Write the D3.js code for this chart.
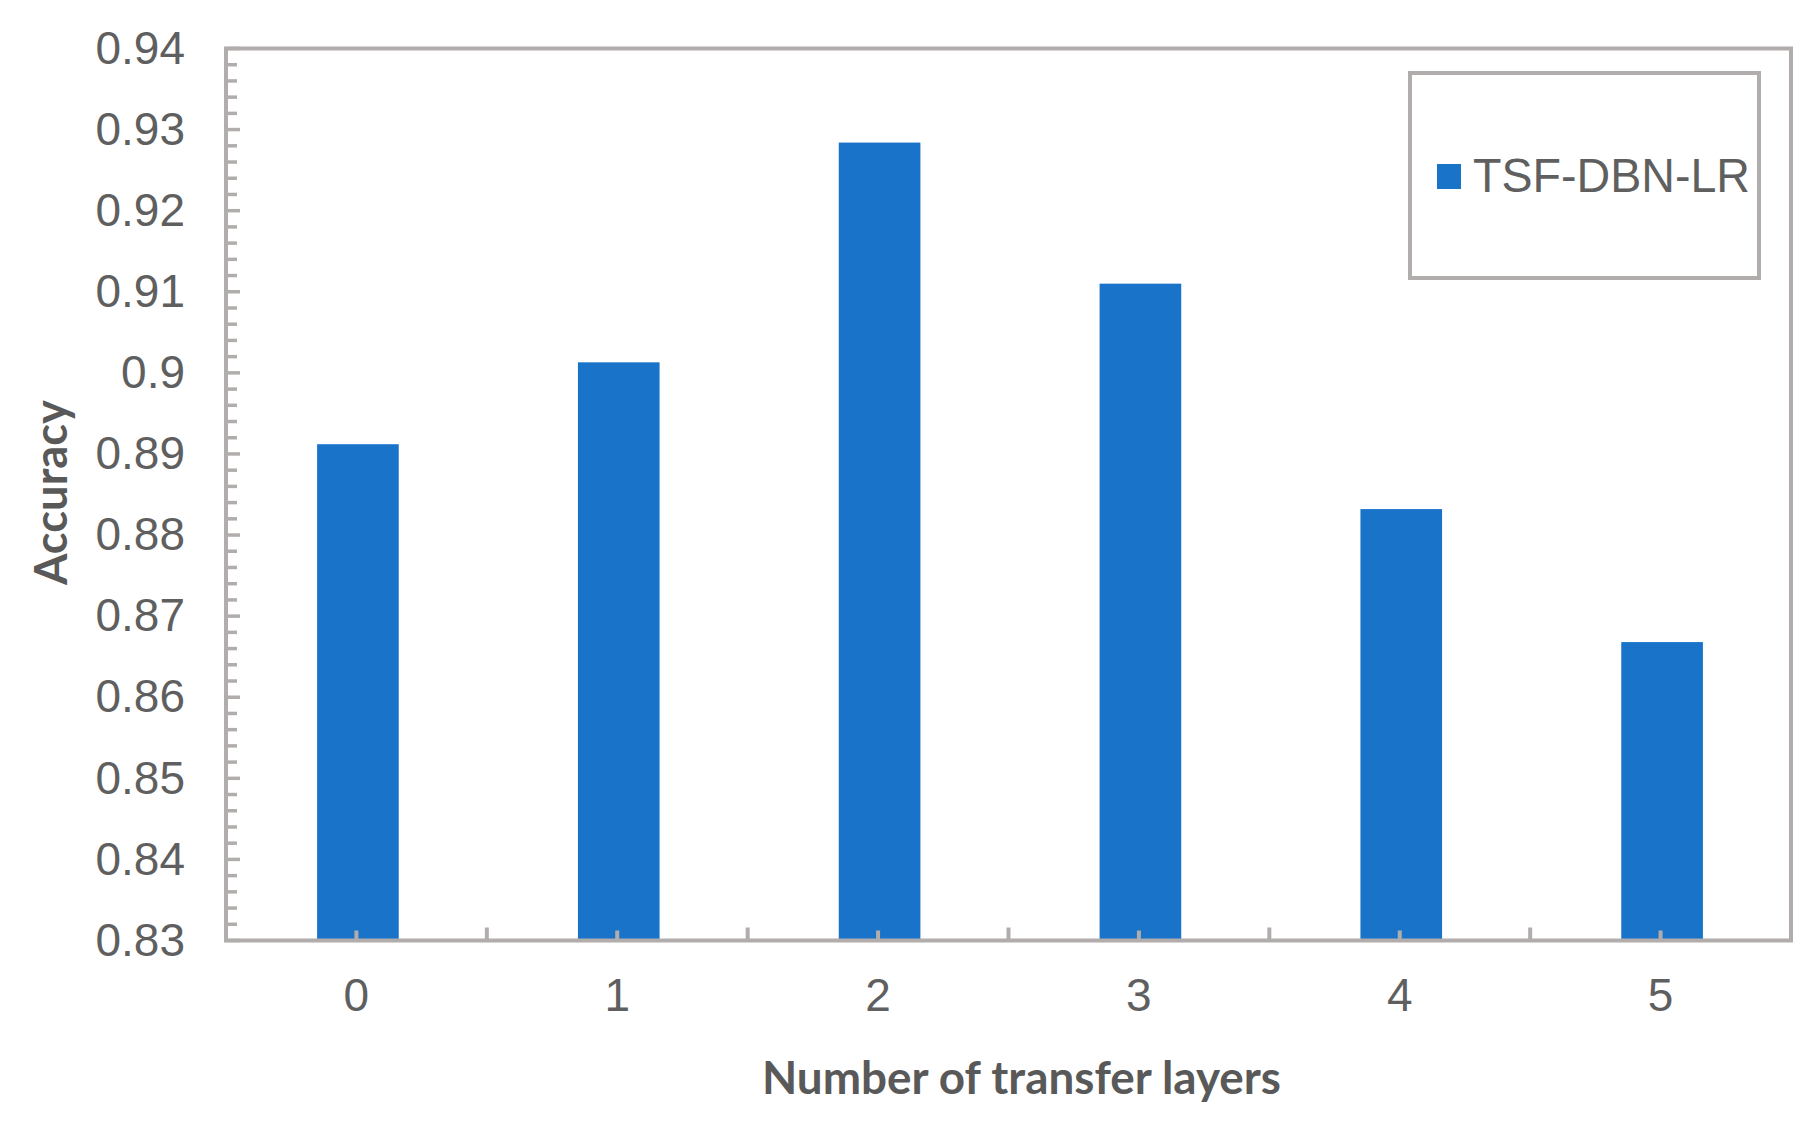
<!DOCTYPE html>
<html>
<head>
<meta charset="utf-8">
<script src="https://cdn.jsdelivr.net/npm/d3@7"></script>
<style>
  html, body { margin: 0; padding: 0; background: #ffffff; }
  svg { display: block; }
</style>
</head>
<body>
<script>
const categories = ["0", "1", "2", "3", "4", "5"];
const accuracy = [0.8912, 0.9013, 0.9284, 0.9110, 0.8832, 0.8668];
const yTicks = [0.83, 0.84, 0.85, 0.86, 0.87, 0.88, 0.89, 0.90, 0.91, 0.92, 0.93, 0.94];
const yTickLabels = ["0.83", "0.84", "0.85", "0.86", "0.87", "0.88", "0.89", "0.9", "0.91", "0.92", "0.93", "0.94"];
const seriesName = "TSF-DBN-LR";
const xTitle = "Number of transfer layers";
const yTitle = "Accuracy";

(function () {
const W = 1818, H = 1124;
const pL = 226, pR = 1791, pT = 48.5, pB = 940.5;
const axisColor = "#b1adac";
const textColor = "#595959";
const barColor = "#1873c9";

const svg = d3.select("body").append("svg")
  .attr("width", W).attr("height", H)
  .attr("viewBox", `0 0 ${W} ${H}`);
svg.append("rect").attr("width", W).attr("height", H).attr("fill", "#fff");

const x = d3.scaleBand().domain(categories).range([pL, pR]).padding(0);
const xBar = d3.scaleBand().domain(categories).range([pL, pR])
  .paddingInner(0.687).paddingOuter(0.3435);
const y = d3.scaleLinear().domain([0.83, 0.94]).range([pB, pT]);

// bars
svg.append("g").selectAll("rect").data(accuracy).join("rect")
  .attr("x", (d, i) => xBar(categories[i]) + 1.5)
  .attr("width", xBar.bandwidth())
  .attr("y", d => y(d))
  .attr("height", d => y(0.83) - y(d))
  .attr("fill", barColor);

// minor/major y ticks (inward)
const minor = d3.range(0, 56).map(i => 0.83 + i * 0.002);
svg.append("g").selectAll("line").data(minor).join("line")
  .attr("x1", pL).attr("x2", (d, i) => pL + (i % 5 === 0 ? 14 : 11))
  .attr("y1", d => y(d)).attr("y2", d => y(d))
  .attr("stroke", axisColor).attr("stroke-width", 3.5);

// x ticks at band boundaries and centres (inward)
const bounds = categories.map(c => x(c)).concat([pR]);
svg.append("g").selectAll("line").data(bounds).join("line")
  .attr("x1", d => d).attr("x2", d => d)
  .attr("y1", pB).attr("y2", pB - 13)
  .attr("stroke", axisColor).attr("stroke-width", 4);
svg.append("g").selectAll("line").data(categories).join("line")
  .attr("x1", d => x(d) + x.bandwidth() / 2).attr("x2", d => x(d) + x.bandwidth() / 2)
  .attr("y1", pB).attr("y2", pB - 10)
  .attr("stroke", axisColor).attr("stroke-width", 4);

// frame
svg.append("rect")
  .attr("x", pL).attr("y", pT)
  .attr("width", pR - pL).attr("height", pB - pT)
  .attr("fill", "none").attr("stroke", axisColor).attr("stroke-width", 4);

// y tick labels
const yAxis = d3.axisLeft(y).tickValues(yTicks)
  .tickFormat((d, i) => yTickLabels[i]).tickSize(0).tickPadding(41);
const gy = svg.append("g").attr("transform", `translate(${pL},0)`).call(yAxis);
gy.select(".domain").remove();
gy.selectAll("text")
  .attr("font-family", "'Liberation Sans', Arial, sans-serif")
  .attr("font-size", 46).attr("fill", "#5f5f5f");

// x tick labels
const xAxis = d3.axisBottom(x).tickSize(0).tickPadding(0);
const gx = svg.append("g").attr("transform", `translate(0,${pB})`).call(xAxis);
gx.select(".domain").remove();
gx.selectAll("text")
  .attr("dy", null).attr("y", 70.5)
  .attr("font-family", "'Liberation Sans', Arial, sans-serif")
  .attr("font-size", 46).attr("fill", "#5f5f5f");

// axis titles
svg.append("text")
  .attr("x", 1021.5).attr("y", 1094)
  .attr("text-anchor", "middle")
  .attr("font-family", "Lato, 'Noto Sans', sans-serif")
  .attr("font-weight", "bold").attr("font-size", 46)
  .attr("textLength", 519).attr("lengthAdjust", "spacingAndGlyphs")
  .attr("fill", textColor).text(xTitle);

svg.append("text")
  .attr("transform", "translate(67,492.5) rotate(-90)")
  .attr("text-anchor", "middle")
  .attr("font-family", "Lato, 'Noto Sans', sans-serif")
  .attr("font-weight", "bold").attr("font-size", 46)
  .attr("textLength", 185).attr("lengthAdjust", "spacingAndGlyphs")
  .attr("fill", textColor).text(yTitle);

// legend
const lg = svg.append("g");
lg.append("rect").attr("x", 1410).attr("y", 73).attr("width", 349).attr("height", 205)
  .attr("fill", "#fff").attr("stroke", axisColor).attr("stroke-width", 4);
lg.append("rect").attr("x", 1437).attr("y", 164).attr("width", 24).attr("height", 25)
  .attr("fill", barColor);
lg.append("text").attr("x", 1473).attr("y", 192)
  .attr("font-family", "'Liberation Sans', Arial, sans-serif")
  .attr("font-size", 48).attr("fill", "#5f5f5f")
  .attr("textLength", 277).attr("lengthAdjust", "spacingAndGlyphs")
  .text(seriesName);
})();
</script>
</body>
</html>
